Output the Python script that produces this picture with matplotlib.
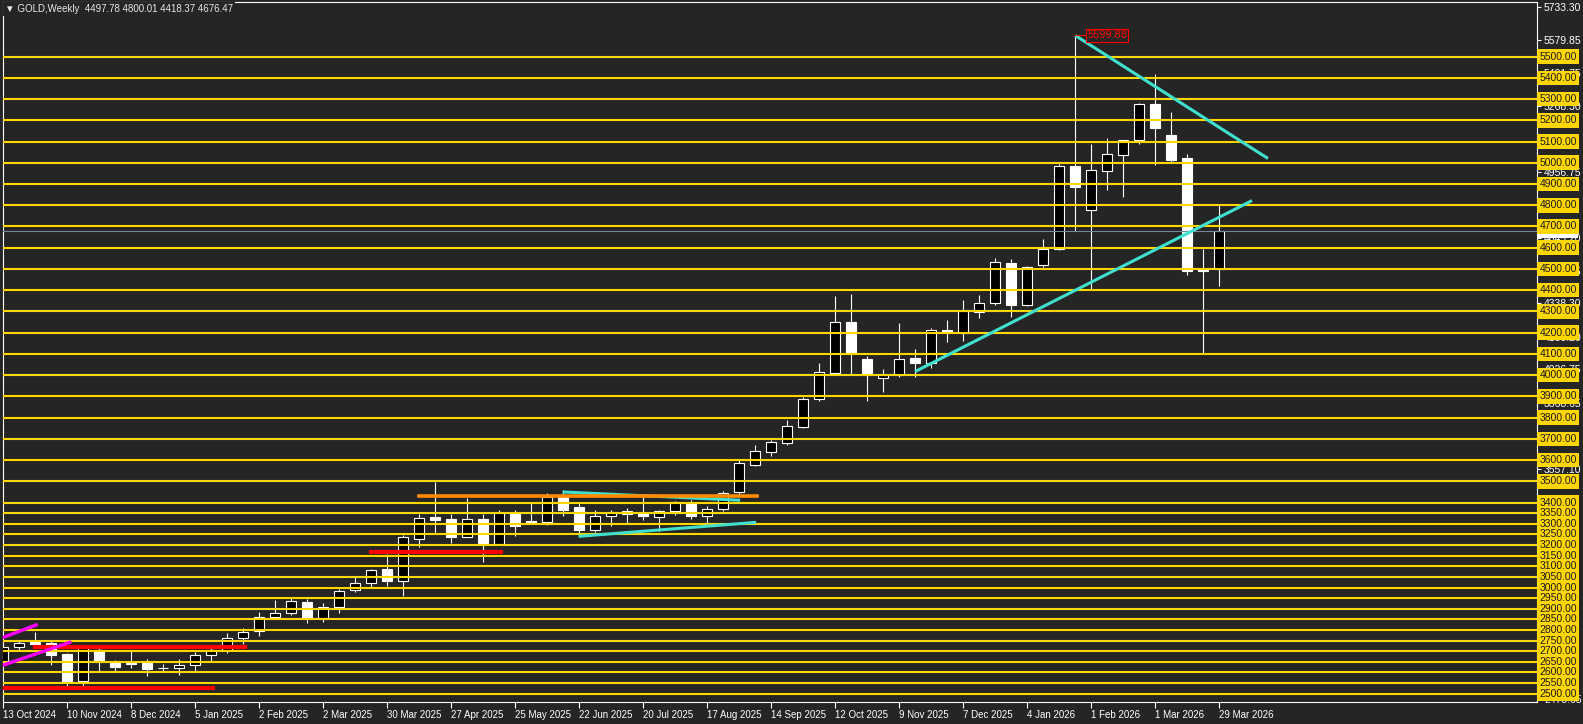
import matplotlib
matplotlib.use("Agg")
import matplotlib.pyplot as plt
import numpy as np
import pandas as pd

plt.rcParams['font.family'] = ['Liberation Sans', 'DejaVu Sans']

# weekly candles, week starting 13 Oct 2024
dates = pd.date_range('2024-10-13', periods=77, freq='7D')
opens = [2652, 2718, 2742, 2737, 2685, 2562, 2707, 2645, 2645, 2643, 2620, 2619, 2637, 2684, 2704, 2763,
         2796, 2863, 2880, 2932, 2855, 2908, 2988, 3022, 3086, 3032, 3227, 3334, 3325, 3239, 3324, 3206,
         3351, 3312, 3309, 3427, 3380, 3270, 3339, 3361, 3351, 3331, 3359, 3398, 3335, 3370, 3448, 3576,
         3640, 3681, 3755, 3887, 4011, 4250, 4078, 3985, 4003, 4081, 4058, 4214, 4200, 4298, 4338, 4528,
         4328, 4517, 4593, 4986, 4777, 4963, 5038, 5105, 5277, 5131, 5023, 4499, 4497.78]
highs = [2722, 2755, 2790, 2748, 2693, 2721, 2721, 2657, 2707, 2663, 2638, 2662, 2697, 2725, 2787, 2809,
         2886, 2943, 2949, 2946, 2926, 2995, 3048, 3086, 3157, 3246, 3348, 3496, 3348, 3422, 3345, 3367,
         3365, 3398, 3445, 3458, 3399, 3364, 3367, 3375, 3436, 3363, 3409, 3410, 3382, 3455, 3600, 3670,
         3694, 3788, 3896, 4055, 4375, 4380, 4092, 4028, 4246, 4125, 4222, 4259, 4356, 4376, 4550, 4549,
         4516, 4643, 4992, 5599.88, 5088, 5117, 5106, 5282, 5418, 5240, 5042, 4593, 4800.01]
lows = [2642, 2708, 2722, 2634, 2536, 2537, 2605, 2605, 2622, 2582, 2602, 2589, 2606, 2656, 2690, 2734,
        2770, 2853, 2873, 2832, 2840, 2878, 2977, 2996, 3006, 2958, 3191, 3253, 3210, 3237, 3121, 3204,
        3241, 3298, 3293, 3335, 3254, 3262, 3292, 3299, 3320, 3268, 3340, 3324, 3304, 3359, 3436, 3574,
        3621, 3670, 3752, 3880, 4005, 4005, 3880, 3921, 3992, 3992, 4036, 4155, 4163, 4270, 4330, 4272,
        4326, 4510, 4590, 4680, 4406, 4874, 4837, 5088, 4990, 5005, 4473, 4102, 4418.37]
closes = [2718, 2740, 2736, 2681, 2562, 2713, 2651, 2628, 2638, 2618, 2621, 2636, 2684, 2704, 2763, 2792,
          2861, 2880, 2937, 2855, 2908, 2984, 3022, 3081, 3031, 3238, 3328, 3317, 3237, 3324, 3211, 3351,
          3288, 3309, 3427, 3364, 3270, 3335, 3354, 3347, 3335, 3361, 3401, 3335, 3370, 3445, 3587, 3642,
          3684, 3760, 3887, 4013, 4249, 4106, 4003, 4000, 4076, 4056, 4213, 4202, 4302, 4338, 4532, 4328,
          4510, 4594, 4986, 4885, 4967, 5040, 5106, 5276, 5166, 5013, 4492, 4490, 4676.47]

# horizontal levels
levels = [5500, 5400, 5300, 5200, 5100, 5000, 4900, 4800, 4700, 4600, 4500, 4400, 4300, 4200, 4100,
          4000, 3900, 3800, 3700, 3600, 3500, 3400, 3350, 3300, 3250, 3200, 3150, 3100, 3050, 3000,
          2950, 2900, 2850, 2800, 2750, 2700, 2650, 2600, 2550, 2500]
axis_ticks = [5733.30, 5579.85, 5421.75, 5268.30, 4956.75, 4645.20, 4491.75, 4338.30,
              4180.20, 4026.75, 3868.65, 3557.10, 2473.65]
last_price = 4676.47
top_price = 5599.88

# drawn objects: (week index start, week index end, price start, price end)
cyan_lines = [(67, 79.06, 5599.88, 5020), (57, 78.06, 4017, 4822),
              (34.96, 46.06, 3450, 3411), (35.96, 47.06, 3241, 3307)]
orange_lines = [(25.96, 47.1, 3433, 3433)]
red_lines = [(22.98, 31.1, 3166, 3166), (1.96, 15.1, 2720, 2720), (-1, 13.1, 2527, 2527)]
magenta_lines = [(-1, 2.06, 2737, 2824), (-1, 4.15, 2609, 2742)]

bg = '#252525'
fig = plt.figure(figsize=(15.83, 7.24), dpi=100, facecolor=bg)
ax = fig.add_axes([3 / 1583, 22 / 724, 1534 / 1583, 700 / 724], facecolor=bg)

x = np.arange(len(dates))
o = np.array(opens); c = np.array(closes)
bull = c >= o
ax.vlines(x, lows, highs, color='white', lw=0.8, zorder=2)
ax.bar(x, np.abs(c - o), bottom=np.minimum(o, c), width=0.62,
       color=np.where(bull, 'black', 'white'), edgecolor='white', linewidth=0.8, zorder=3)

for lv in levels:
    ax.axhline(lv, color='#ffd700', lw=1.5, zorder=4)
ax.axhline(last_price, color='#778899', lw=0.8, zorder=4)

for x0, x1, p0, p1 in cyan_lines:
    ax.plot([x0, x1], [p0, p1], color='#40e0d0', lw=2.2, zorder=5, solid_capstyle='butt')
for x0, x1, p0, p1 in orange_lines:
    ax.plot([x0, x1], [p0, p1], color='#ff8c00', lw=2.6, zorder=5)
for x0, x1, p0, p1 in red_lines:
    ax.plot([x0, x1], [p0, p1], color='#ff0000', lw=3, zorder=5)
for x0, x1, p0, p1 in magenta_lines:
    ax.plot([x0, x1], [p0, p1], color='#ff00ff', lw=2.4, zorder=5)

# high label
ax.plot([67, 67.7], [top_price, top_price], color='#ff0000', lw=0.8, zorder=6)
ax.text(67.75, top_price, f'{top_price:.2f}', color='#ff0000', fontsize=8, va='center', ha='left',
        zorder=6, bbox=dict(boxstyle='square,pad=0.12', fc=bg, ec='#ff0000', lw=0.8))

ax.set_xlim(-0.02, 95.875)
ax.set_ylim(2461, 5757)

# axes / ticks
for s in ax.spines.values():
    s.set_color('white')
    s.set_linewidth(0.8)
ax.yaxis.tick_right()
ax.set_yticks(axis_ticks)
ax.set_yticklabels([f'{t:.2f}' for t in axis_ticks], fontsize=7.5, color='white')
ax.tick_params(axis='y', colors='white', length=3, width=0.8, pad=2)
xt = x[::4]
ax.set_xticks(xt)
ax.set_xticklabels([f'{d.day} {d:%b %Y}' for d in dates[::4]], fontsize=7, color='white', ha='left')
ax.tick_params(axis='x', colors='white', length=4, width=0.8, pad=2)

ytr = ax.get_yaxis_transform()
ax.text(1.0015, last_price, f'{last_price:.2f}', transform=ytr, fontsize=7.5, color='black',
        va='center', ha='left', zorder=7, clip_on=False,
        bbox=dict(boxstyle='square,pad=0.15', fc='white', ec='none'))
for lv in levels:
    ax.text(1.0015, lv, f'{lv:.2f}', transform=ytr, fontsize=7.5, color='#1a1a1a',
            va='center', ha='left', zorder=8, clip_on=False,
            bbox=dict(boxstyle='square,pad=0.22', fc='#ffd700', ec='none'))

fig.text(5 / 1583, 1 - 9 / 724, '\u25bc GOLD,Weekly  4497.78 4800.01 4418.37 4676.47', fontsize=7,
         color='#e8e8e8', va='center', ha='left',
         bbox=dict(boxstyle='square,pad=0.2', fc=bg, ec='none'))

fig.savefig('out.png', dpi=100, facecolor=bg)
